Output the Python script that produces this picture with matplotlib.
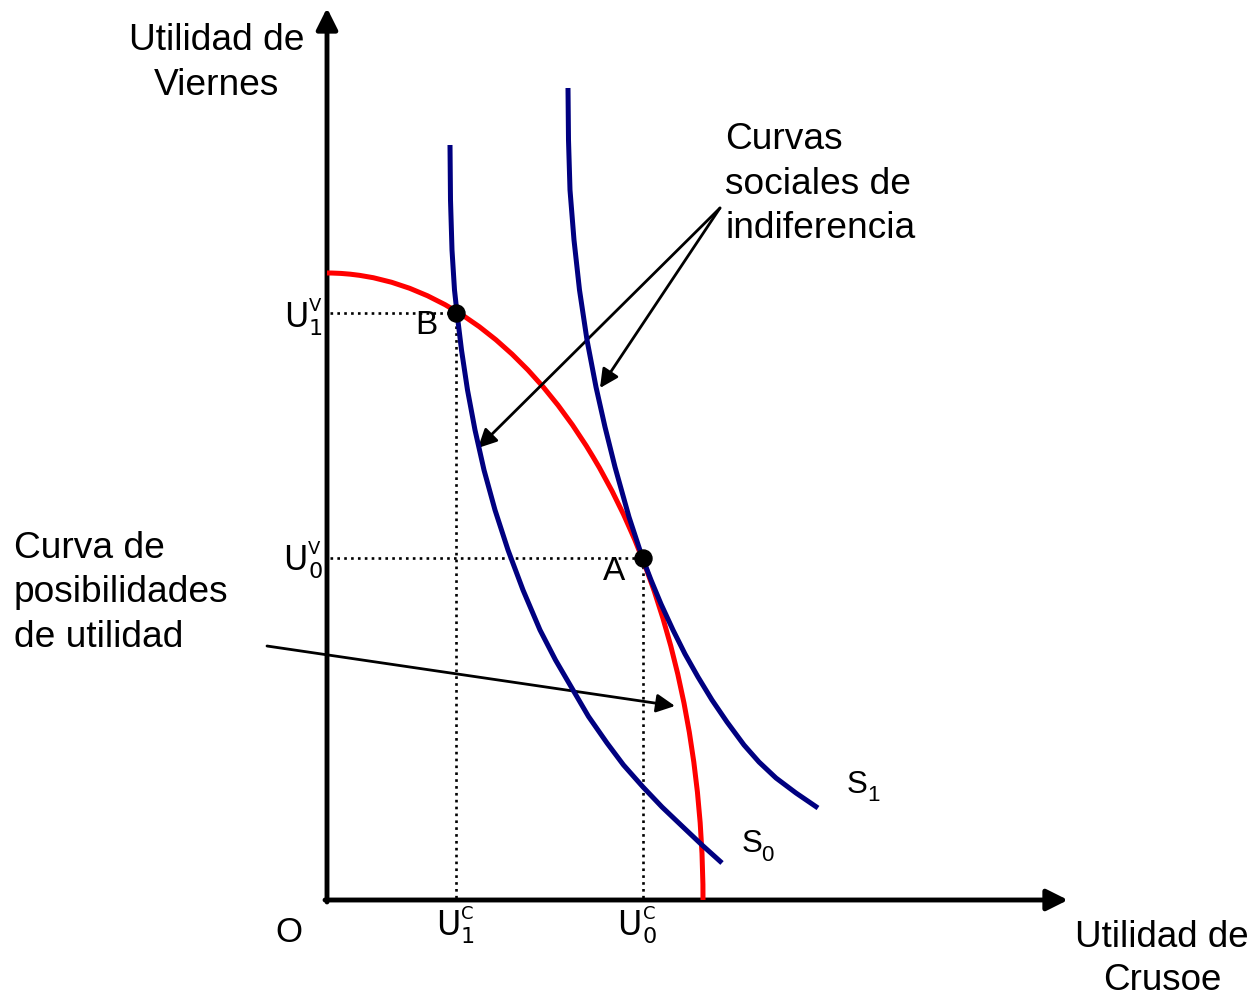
import matplotlib
matplotlib.use('Agg')
import matplotlib.pyplot as plt
from matplotlib.patches import Arc

plt.rcParams['font.family'] = ['Liberation Sans', 'DejaVu Sans']

# values (origin = axes corner O)
# utility possibilities frontier: elliptical quadrant, intercepts on each axis
ppf_x_max = 376
ppf_y_max = 627

s0_x = [123, 123.5, 125, 127.5, 130, 134.5, 140.5, 148, 157, 168, 181, 196, 213, 228.5,
        246, 261.5, 280, 296.5, 316, 335, 356, 375, 395]
s0_y = [755, 700, 650, 610, 587, 550, 510, 470, 430, 390, 350, 310, 270, 240,
        210, 183.5, 157, 135, 113, 93, 73, 55, 37]

s1_x = [241, 241.5, 243, 247, 252.5, 260, 269, 278, 288, 302, 315.5, 324, 334, 346,
        358, 371, 385, 400, 417, 432, 449, 469, 491]
s1_y = [812, 760, 710, 660, 610, 560, 513, 473, 433, 383, 342, 320, 296, 270,
        246, 223, 200, 178, 155, 138, 122, 107, 92]

# equilibrium points
pt_names = ['B', 'A']
pt_x = [129, 316]
pt_y = [587, 342]
pt_label_x = [99, 287]
pt_label_y = [574, 328]

BLUE = '#000080'
RED = '#ff0000'

fig = plt.figure(figsize=(12.55, 9.99), dpi=100)
ax = fig.add_axes([0, 0, 1, 1])
ax.set_xlim(-327, 928)
ax.set_ylim(-99, 900)
ax.axis('off')

# axes with arrows
ax.annotate('', xy=(0, 892), xytext=(0, -2),
            arrowprops=dict(arrowstyle='-|>', lw=3.5, color='black', mutation_scale=32,
                            shrinkA=0, shrinkB=0))
ax.annotate('', xy=(741, 0), xytext=(-2, 0),
            arrowprops=dict(arrowstyle='-|>', lw=3.5, color='black', mutation_scale=32,
                            shrinkA=0, shrinkB=0))

# dotted guides
dot = (0, (1, 1.6))
for x, y in zip(pt_x, pt_y):
    ax.plot([3, x], [y, y], color='black', lw=1.9, ls=dot)
    ax.plot([x, x], [2, y], color='black', lw=1.9, ls=dot)

ax.add_patch(Arc((0, 0), 2 * ppf_x_max, 2 * ppf_y_max, theta1=0, theta2=90,
                 color=RED, lw=3.6, zorder=3))
ax.plot(s0_x, s0_y, color=BLUE, lw=3.6, solid_capstyle='butt', solid_joinstyle='round', zorder=4)
ax.plot(s1_x, s1_y, color=BLUE, lw=3.6, solid_capstyle='butt', solid_joinstyle='round', zorder=4)

ax.scatter(pt_x, pt_y, s=150, color='black', zorder=5)
for n, x, y in zip(pt_names, pt_label_x, pt_label_y):
    ax.text(x, y, n, fontsize=24, ha='center', va='center')

# annotation arrows
arw = dict(arrowstyle='-|>', lw=2, color='black', mutation_scale=28, shrinkA=0, shrinkB=0)
ax.annotate('', xy=(151, 452), xytext=(393, 692), arrowprops=arw)
ax.annotate('', xy=(273, 512), xytext=(393, 692), arrowprops=arw)
ax.annotate('', xy=(348, 194), xytext=(-60, 254), arrowprops=arw)

# texts
ls = 1.35
fs = 26.7
ax.text(-110, 837, 'Utilidad de\nViernes', fontsize=fs, ha='center', va='center', linespacing=ls)
ax.text(398, 716, 'Curvas\nsociales de\nindiferencia', fontsize=fs, ha='left', va='center',
        linespacing=ls)
ax.text(-313, 307, 'Curva de\nposibilidades\nde utilidad', fontsize=fs, ha='left', va='center',
        linespacing=ls)
ax.text(835, -59, 'Utilidad de\nCrusoe', fontsize=26.5, ha='center', va='center', linespacing=1.3)
ax.text(-38, -33, 'O', fontsize=25, ha='center', va='center')


def ulabel(x, y, sup, sub):
    # x = right edge of U, y = baseline of U
    ax.text(x, y, 'U', fontsize=24, family='DejaVu Sans', ha='right', va='baseline')
    ax.text(x + 1, y + 16, sup, fontsize=13, family='DejaVu Sans', ha='left', va='baseline')
    ax.text(x + 1, y - 8, sub, fontsize=16, family='DejaVu Sans', ha='left', va='baseline')


ulabel(-19, 573, 'V', '1')
ulabel(-20, 330, 'V', '0')
ulabel(133, -35, 'C', '1')
ulabel(315, -35, 'C', '0')

ax.text(520, 107, 'S', fontsize=22.5, ha='left', va='baseline')
ax.text(540, 99, '1', fontsize=16, ha='left', va='baseline')
ax.text(415, 48, 'S', fontsize=22.5, ha='left', va='baseline')
ax.text(434, 39, '0', fontsize=16, ha='left', va='baseline')

fig.savefig('out.png', dpi=100)
